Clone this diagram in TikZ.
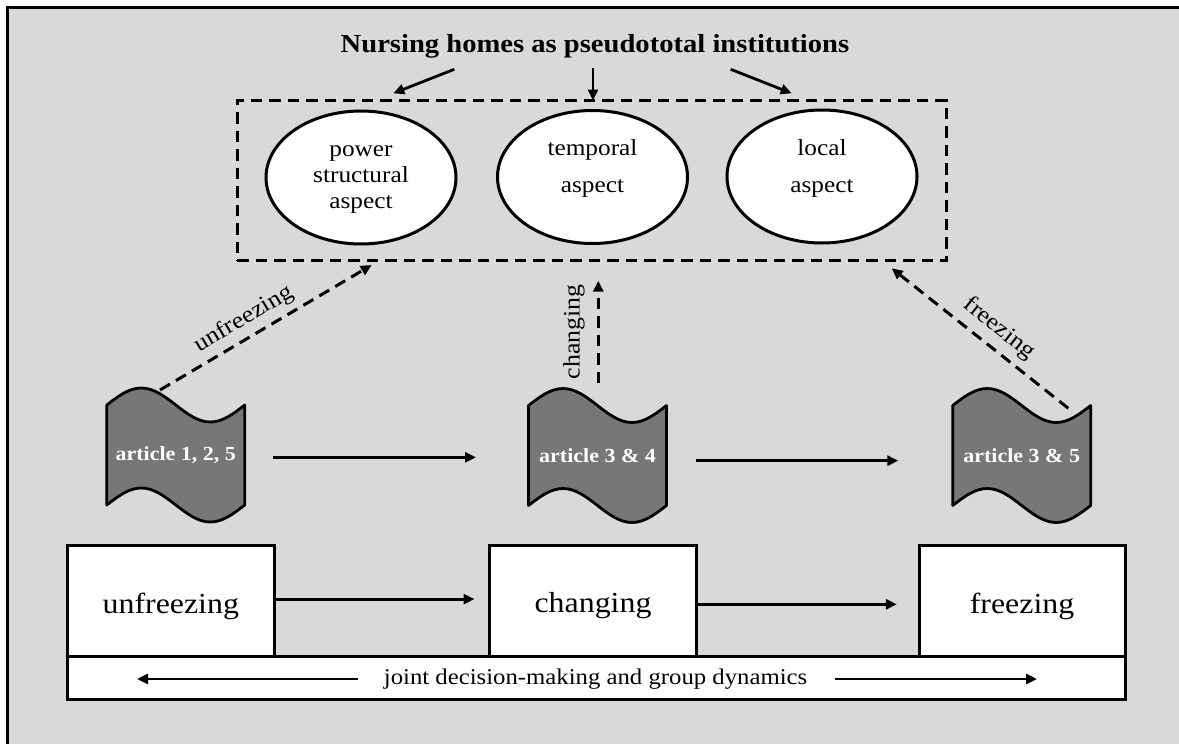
\documentclass[tikz,border=0pt]{standalone}
\usepackage{fontspec}
\setmainfont{Liberation Serif}[FakeStretch=1.1]
\usetikzlibrary{arrows.meta,calc,shapes.geometric}
\definecolor{bggray}{RGB}{217,217,217}
\definecolor{wavegray}{RGB}{119,119,119}
\begin{document}
\begin{tikzpicture}[x=1pt,y=-1pt,
  tip/.style={-{Triangle[length=11pt,width=10pt]}},
  sol/.style={line width=2.8pt, tip},
  dsh/.style={line width=3pt, dash pattern=on 11.5pt off 7pt, tip},
  ell/.style={draw, line width=3pt, fill=white, ellipse, minimum width=190pt, minimum height=133pt, inner sep=0pt},
  etxt/.style={font=\fontsize{23}{26}\selectfont, align=center, inner sep=0pt},
  wave/.style={draw, line width=2.8pt, fill=wavegray, line join=round},
  wtxt/.style={text=white, font=\bfseries\fontsize{20}{24}\selectfont, inner sep=0pt},
  bx/.style={draw, line width=3pt, fill=white, inner sep=0pt},
  btxt/.style={font=\fontsize{29}{34}\selectfont, inner sep=0pt},
  lbl/.style={font=\fontsize{23.5}{28}\selectfont, inner sep=3pt, sloped}
]
\useasboundingbox (0,0) rectangle (1179,744);
\fill[white] (0,0) rectangle (1179,744);
\begin{scope}
\clip (0,0) rectangle (1179,744);
\draw[line width=3.3pt, fill=bggray] (7.6,7.6) rectangle (1200,770);
\end{scope}

% title
\node[font=\bfseries\fontsize{26}{30}\selectfont, anchor=base, inner sep=0pt] (title) at (595,52) {Nursing homes as pseudototal institutions};

% dashed frame with aspects
\node[draw, line width=3pt, dash pattern=on 11.5pt off 7pt, minimum width=709.7pt, minimum height=160pt, inner sep=0pt] (aspects) at (591.85,180.5) {};
\node[ell] (e1) at (361,177.5) {};
\node[ell] (e2) at (592.5,177) {};
\node[ell] (e3) at (822,176.5) {};
\node[etxt] (t1) at (361,180) {power\\structural\\aspect};
\node[etxt] (t2) at (592.5,168.3) {temporal\\[10.7pt]aspect};
\node[etxt] (t3) at (822,168.3) {local\\[10.7pt]aspect};

% arrows from title
\coordinate (ta1) at (454.3,69.3); \coordinate (ha1) at (393.3,93.3);
\coordinate (ta2) at (593,68);     \coordinate (ha2) at (593,100.5);
\coordinate (ta3) at (730.7,69.3); \coordinate (ha3) at (791.7,93.3);
\draw[sol] (ta1) -- (ha1);
\draw[sol] (ta2) -- (ha2);
\draw[sol] (ta3) -- (ha3);

% wave shapes
\coordinate (c1) at (175.8,455);
\coordinate (c2) at (597.5,455.5);
\coordinate (c3) at (1021.7,455.5);
\foreach \c in {c1,c2,c3}{
  \draw[wave] ([shift={(-69,-50)}]\c) sin ++(34.5,-17) cos ++(34.5,17) sin ++(34.5,17) cos ++(34.5,-17)
    -- ++(0,100) sin ++(-34.5,17) cos ++(-34.5,-17) sin ++(-34.5,-17) cos ++(-34.5,17) -- cycle;
}
\node[wtxt] (w1) at (c1) {article 1, 2, 5};
\node[wtxt] (w2) at (c2) {article 3 \& 4};
\node[wtxt] (w3) at (c3) {article 3 \& 5};

% arrows between waves
\coordinate (wa1s) at (273.3,457.3); \coordinate (wa1e) at (476,457.3);
\coordinate (wa2s) at (696,460.7);   \coordinate (wa2e) at (898.3,460.7);
\draw[sol] (wa1s) -- (wa1e);
\draw[sol] (wa2s) -- (wa2e);

% dashed arrows to frame
\coordinate (u1) at (160,390);    \coordinate (u2) at (371.7,265);
\coordinate (g1) at (598.3,383.3); \coordinate (g2) at (598.3,280.7);
\coordinate (f1) at (1068.3,408.3); \coordinate (f2) at (891.7,268.3);
\draw[dsh] (u1) -- node[lbl, pos=0.44, above=3pt] {unfreezing} (u2);
\draw[dsh] (g1) -- node[lbl, midway, above=9pt] {changing} (g2);
\draw[dsh] (f1) -- node[lbl, pos=0.46, above=4pt] {freezing} (f2);

% bottom bar and boxes
\node[bx, minimum width=1058pt, minimum height=42.5pt] (bar) at (596,677.75) {};
\node[bx, minimum width=207pt, minimum height=110.8pt] (b1) at (170.5,601.1) {};
\node[bx, minimum width=207pt, minimum height=110.8pt] (b2) at (592.8,601.1) {};
\node[bx, minimum width=205.7pt, minimum height=110.8pt] (b3) at (1022.15,601.1) {};
\node[btxt] (l1) at (170.8,606) {unfreezing};
\node[btxt] (l2) at (593,606) {changing};
\node[btxt] (l3) at (1022,606) {freezing};
\draw[sol] ([yshift=2pt]b1.east) -- ([xshift=-13.3pt,yshift=2pt]b2.west);
\draw[sol] ([yshift=-3.2pt]b2.east) -- ([xshift=-21pt,yshift=-3.2pt]b3.west);

\node[font=\fontsize{22.5}{27}\selectfont, inner sep=0pt] (bt) at (595.6,679) {joint decision-making and group dynamics};
\coordinate (bl1) at (358,679); \coordinate (bl2) at (137,679);
\coordinate (br1) at (835,679); \coordinate (br2) at (1037,679);
\draw[sol] (bl1) -- (bl2);
\draw[sol] (br1) -- (br2);
\end{tikzpicture}
\end{document}
